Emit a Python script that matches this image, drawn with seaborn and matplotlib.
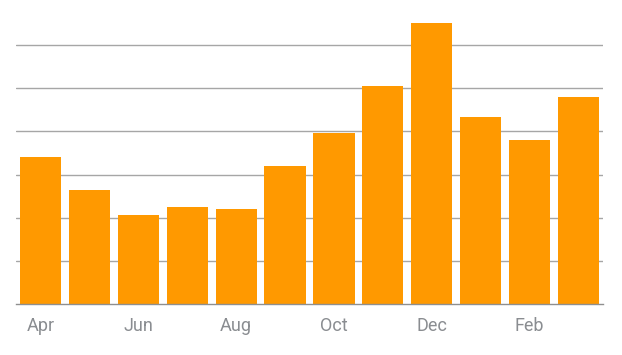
import matplotlib
matplotlib.use("Agg")
import matplotlib.pyplot as plt
import seaborn as sns
import pandas as pd

months = ["Apr", "May", "Jun", "Jul", "Aug", "Sep", "Oct", "Nov", "Dec", "Jan", "Feb", "Mar"]
values = [34.1, 26.5, 20.7, 22.5, 22.1, 32.0, 39.7, 50.5, 65.1, 43.4, 38.0, 48.0]
tick_labels = ["Apr", "", "Jun", "", "Aug", "", "Oct", "", "Dec", "", "Feb", ""]

sns.set_theme(style="white")
plt.rcParams['font.family'] = ['Roboto', 'DejaVu Sans']

df = pd.DataFrame({"month": months, "value": values})

fig = plt.figure(figsize=(6.22, 3.55), dpi=100)
W, H = 622, 355
left, right, top, bottom = 16, 603, 23, 304.3
ax = fig.add_axes([left / W, 1 - bottom / H, (right - left) / W, (bottom - top) / H])

sns.barplot(data=df, x="month", y="value", color="#FF9900", saturation=1,
            width=0.84, linewidth=0, edgecolor="none", ax=ax, zorder=3)

ax.set_xlim(-0.5, 11.5)
ax.set_ylim(0, 65.1)
ax.set_yticks([10, 20, 30, 40, 50, 60])
ax.yaxis.grid(True, color="#a6a6a6", linewidth=1, zorder=0)
ax.set_axisbelow(True)
ax.set_yticklabels([])
ax.tick_params(axis="y", length=0)
ax.set_xticks(range(12))
ax.set_xticklabels(tick_labels)
ax.tick_params(axis="x", length=0, pad=9, labelsize=13, labelcolor="#8a8d91")
ax.set_xlabel("")
ax.set_ylabel("")
for s in ["top", "left", "right"]:
    ax.spines[s].set_visible(False)
ax.spines["bottom"].set_color("#8f8f8f")
ax.spines["bottom"].set_linewidth(1)
ax.spines["bottom"].set_zorder(4)

fig.savefig("out.png", dpi=100)
